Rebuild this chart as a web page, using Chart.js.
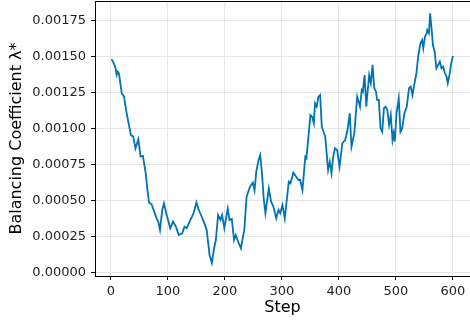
<!DOCTYPE html>
<html>
<head>
<meta charset="utf-8">
<script src="https://cdn.jsdelivr.net/npm/chart.js@4"></script>
<style>
  html, body { margin: 0; padding: 0; background: #fff; overflow: hidden; }
  canvas { display: block; }
</style>
</head>
<body>
<canvas id="chart" width="470" height="322"></canvas>
<script>
// ── Data ──────────────────────────────────────
const steps = [
  1, 4, 6, 8, 10, 12, 14, 19, 23, 27, 31, 35, 39, 43, 48, 52, 56, 61, 64, 67,
  71, 76, 80, 83, 86, 90, 93, 97, 104, 109, 114, 119, 125, 129, 133, 138, 145, 150, 154, 158,
  164, 168, 173, 177, 181, 184, 188, 192, 195, 199, 205, 208, 212, 216, 219, 222, 228, 234, 238, 244,
  249, 252, 255, 259, 262, 265, 268, 271, 277, 281, 285, 290, 294, 297, 301, 305, 312, 315, 320, 325,
  329, 332, 336, 341, 343, 347, 350, 353, 356, 358, 361, 364, 367, 370, 372, 376, 381, 384, 387, 390,
  393, 397, 401, 406, 411, 415, 419, 422, 427, 432, 437, 440, 442, 445, 448, 453, 456, 459, 462, 465,
  467, 470, 473, 476, 479, 482, 485, 488, 491, 494, 496, 498, 501, 505, 508, 511, 515, 519, 523, 526,
  529, 532, 536, 539, 543, 546, 548, 551, 554, 555, 558, 560, 562, 565, 568, 571, 574, 577, 580, 583,
  586, 589, 591, 594, 597, 600,
];
const lambdaValues = [
  0.001479, 0.00146, 0.00144, 0.00142, 0.00137, 0.001393, 0.001382, 0.001243, 0.00122, 0.001115,
  0.001035, 0.000953, 0.000942, 0.000861, 0.000924, 0.000803, 0.000808, 0.000688, 0.000571, 0.000483,
  0.000474, 0.000421, 0.000375, 0.000352, 0.000294, 0.000433, 0.000479, 0.00041, 0.000306, 0.000352,
  0.000317, 0.000259, 0.000271, 0.000317, 0.000306, 0.000352, 0.00041, 0.000486, 0.000433, 0.000398,
  0.00034, 0.000294, 0.00012, 0.000065, 0.000167, 0.000224, 0.000398, 0.000363, 0.000398, 0.000306,
  0.000444, 0.000363, 0.000371, 0.000224, 0.000259, 0.000224, 0.000167, 0.000294, 0.000525, 0.000594,
  0.000622, 0.00057, 0.000699, 0.00078, 0.000815, 0.000688, 0.000514, 0.00041, 0.000583, 0.00049,
  0.000456, 0.000375, 0.000433, 0.00041, 0.000467, 0.000375, 0.000629, 0.000618, 0.000692, 0.000664,
  0.000641, 0.000641, 0.000571, 0.000803, 0.000792, 0.000965, 0.001092, 0.00108, 0.001035, 0.001174,
  0.00115, 0.00122, 0.001231, 0.001011, 0.000988, 0.000942, 0.00071, 0.000768, 0.000688, 0.000803,
  0.000861, 0.000849, 0.000733, 0.000896, 0.000919, 0.000988, 0.001104, 0.000872, 0.000965, 0.00122,
  0.00115, 0.001266, 0.001254, 0.00137, 0.00115, 0.00137, 0.001313, 0.00144, 0.001278, 0.001254,
  0.001197, 0.001197, 0.001, 0.000976, 0.001139, 0.00115, 0.001127, 0.001023, 0.001092, 0.000919,
  0.000965, 0.000907, 0.001104, 0.001208, 0.000976, 0.000999, 0.001104, 0.00115, 0.001278, 0.00129,
  0.001231, 0.0013, 0.001382, 0.001497, 0.00159, 0.001613, 0.001556, 0.001636, 0.00166, 0.001683,
  0.00166, 0.001799, 0.001717, 0.001578, 0.001532, 0.001417, 0.00144, 0.001463, 0.001417, 0.001428,
  0.001382, 0.001358, 0.001313, 0.00137, 0.001451, 0.001502,
];
const xTicks = [0, 100, 200, 300, 400, 500, 600];
const yTicks = [0, 0.00025, 0.0005, 0.00075, 0.001, 0.00125, 0.0015, 0.00175];

// ── Styles ────────────────────────────────────
const FONT = 'DejaVu Sans';
const LINE_COLOR = '#0173b2';
const GRID_COLOR = '#e6e6e6';
const TICK = { color: '#222', font: { family: FONT, size: 13 } };

// only draw grid lines on the listed ticks
function gridFor(list) {
  return {
    color: c => (c.tick && list.includes(c.tick.value) ? GRID_COLOR : 'rgba(0,0,0,0)'),
    tickColor: c => (c.tick && list.includes(c.tick.value) ? '#000' : 'rgba(0,0,0,0)'),
    lineWidth: 1,
    tickLength: 4,
    drawTicks: true,
  };
}

// drop the label overhang padding so the plot box matches the reference
function noOverhang(s) {
  s.paddingTop = 0; s.paddingBottom = 0; s.paddingLeft = 0; s.paddingRight = 0;
}

// top spine (right one falls just outside the picture)
const frame = {
  id: 'frame',
  afterDraw(chart) {
    const { ctx, chartArea: a } = chart;
    ctx.save();
    ctx.strokeStyle = '#000';
    ctx.lineWidth = 1;
    ctx.beginPath();
    ctx.moveTo(a.left, a.top + 0.5);
    ctx.lineTo(a.right, a.top + 0.5);
    ctx.stroke();
    ctx.restore();
  },
};

new Chart(document.getElementById('chart'), {
  type: 'line',
  data: {
    datasets: [{
      data: steps.map((s, i) => ({ x: s, y: lambdaValues[i] })),
      borderColor: LINE_COLOR,
      borderWidth: 1.8,
      pointRadius: 0,
      tension: 0,
      fill: false,
    }],
  },
  options: {
    responsive: false,
    animation: false,
    devicePixelRatio: 1,
    layout: { padding: { top: 1, right: 0, left: 0, bottom: 0 } },
    plugins: { legend: { display: false }, tooltip: { enabled: false } },
    scales: {
      x: {
        type: 'linear',
        min: -28,
        max: 630,
        grid: gridFor(xTicks),
        border: { color: '#000', width: 1 },
        ticks: { ...TICK, padding: 4, maxRotation: 0 },
        afterBuildTicks: s => { s.ticks = xTicks.map(v => ({ value: v })); },
        afterFit: s => { s.height = 46; noOverhang(s); },
        title: { display: true, text: 'Step', color: '#000', font: { family: FONT, size: 16 }, padding: { top: 0, bottom: 5 } },
      },
      y: {
        type: 'linear',
        min: -0.0000257,
        max: 0.001884,
        grid: gridFor(yTicks),
        border: { color: '#000', width: 1 },
        ticks: { ...TICK, padding: 5, callback: v => v.toFixed(5) },
        afterBuildTicks: s => { s.ticks = yTicks.map(v => ({ value: v })); },
        afterFit: s => { s.width = 95; noOverhang(s); },
        title: { display: true, text: 'Balancing Coefficient λ*', color: '#000', font: { family: FONT, size: 16 }, padding: { top: 7, bottom: 0 } },
      },
    },
  },
  plugins: [frame],
});
</script>
</body>
</html>
